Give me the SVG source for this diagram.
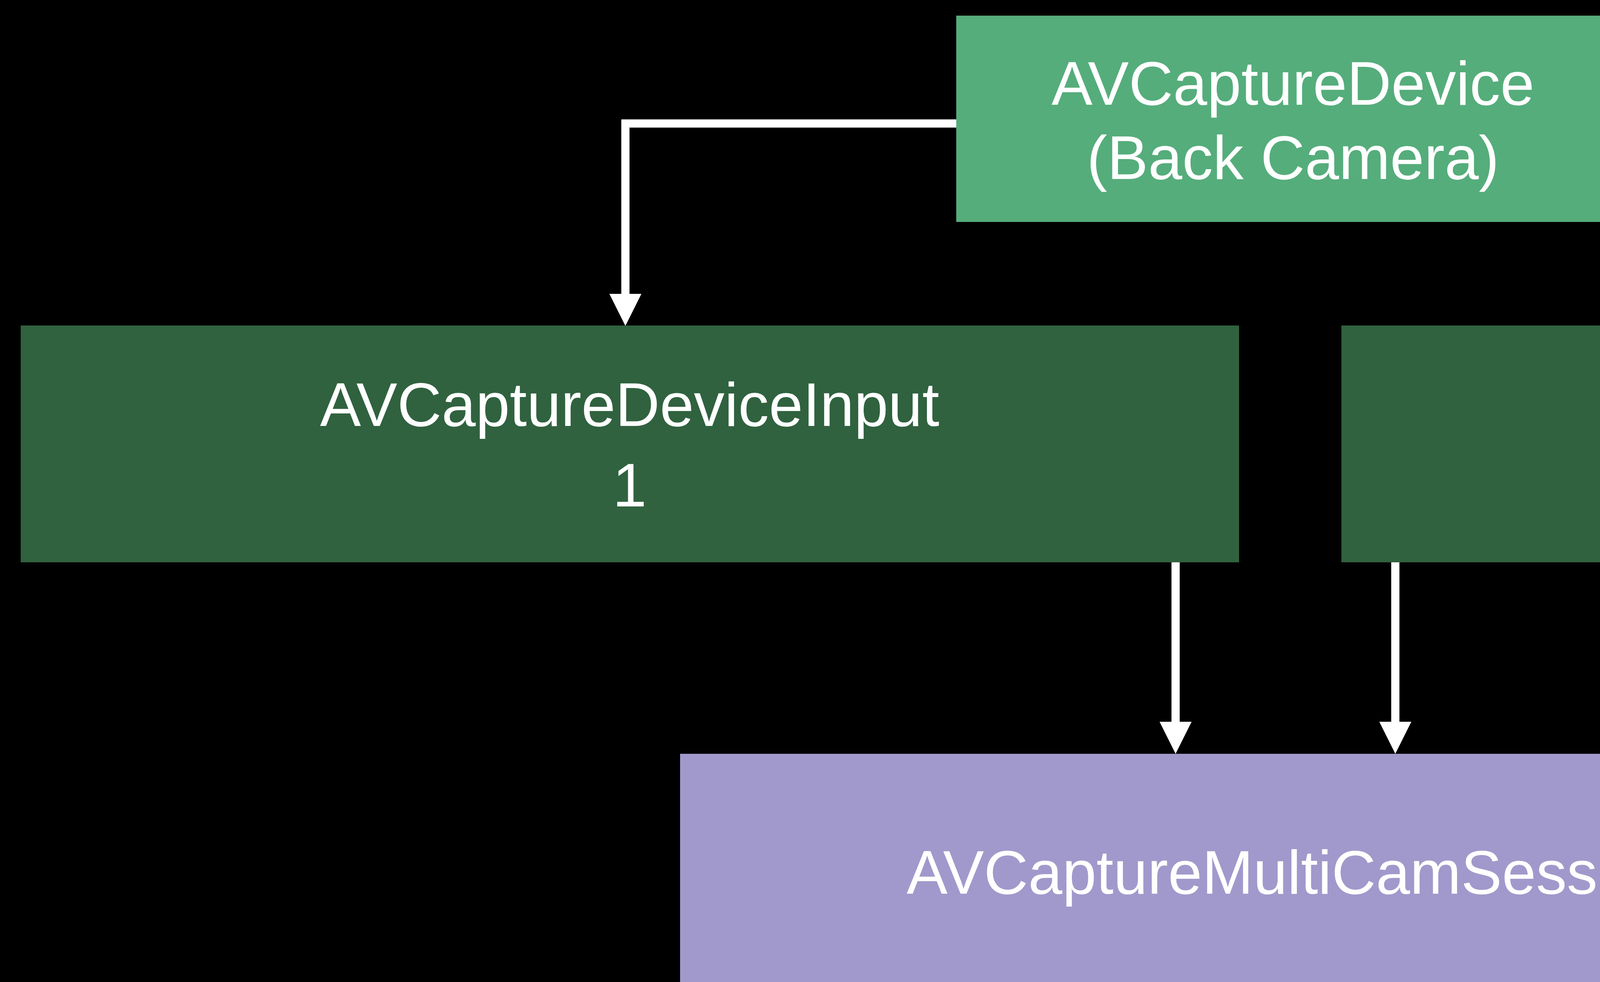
<svg xmlns="http://www.w3.org/2000/svg" width="6482" height="2513" viewBox="0 0 6482 2513">
  <style>
    .lbl { font-family: "Liberation Sans", Arial, sans-serif; font-size: 157px; fill: #FFFFFF; text-anchor: middle; }
    .conn { fill: none; stroke: #FFFFFF; stroke-width: 21; stroke-linejoin: miter; stroke-linecap: butt; }
  </style>
  <defs>
    <marker id="arrow" markerUnits="userSpaceOnUse" markerWidth="82" markerHeight="82" viewBox="0 0 82 82" refX="0" refY="41" orient="auto">
      <path d="M0,0 L82,41 L0,82 Z" fill="#FFFFFF"/>
    </marker>
  </defs>
  <rect x="0" y="0" width="6482" height="2513" fill="#000000"/>

  <g id="connectors">
    <path class="conn" d="M2448,316 H1601 V752" marker-end="url(#arrow)"/>
    <path class="conn" d="M4172,316 H4986 V752" marker-end="url(#arrow)"/>
    <path class="conn" d="M3009.5,1439 V1847" marker-end="url(#arrow)"/>
    <path class="conn" d="M3572,1439 V1847" marker-end="url(#arrow)"/>
  </g>

  <g id="node-device">
    <rect x="2448" y="40" width="1724" height="528" fill="#55AD7B"/>
    <text class="lbl" x="3310" y="268">AVCaptureDevice</text>
    <text class="lbl" x="3310" y="458">(Back Camera)</text>
  </g>

  <g id="node-input1">
    <rect x="53" y="833" width="3119" height="606" fill="#30623F"/>
    <text class="lbl" x="1612" y="1090">AVCaptureDeviceInput</text>
    <text class="lbl" x="1612" y="1296">1</text>
  </g>

  <g id="node-input2">
    <rect x="3434" y="833" width="3119" height="606" fill="#30623F"/>
    <text class="lbl" x="4995" y="1090">AVCaptureDeviceInput</text>
    <text class="lbl" x="4995" y="1296">2</text>
  </g>

  <g id="node-session">
    <rect x="1741" y="1929" width="3139" height="620" fill="#A199CB"/>
    <text class="lbl" x="3310" y="2287">AVCaptureMultiCamSession</text>
  </g>
</svg>
